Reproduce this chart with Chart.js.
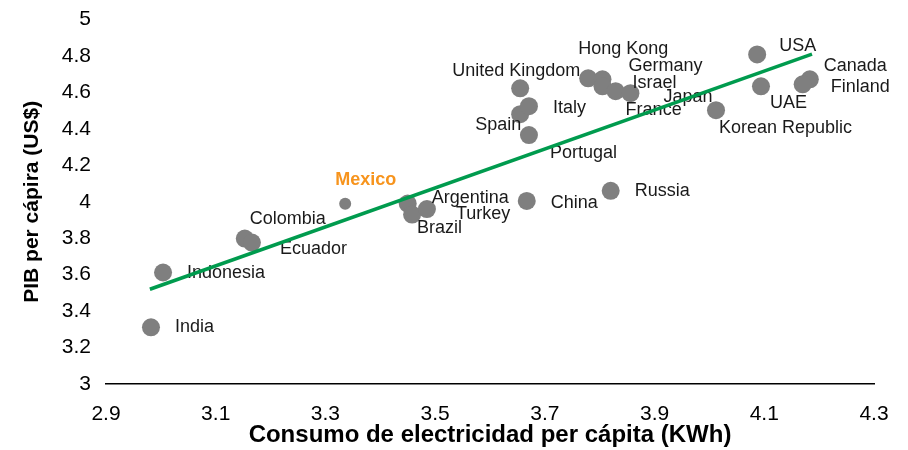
<!DOCTYPE html>
<html>
<head>
<meta charset="utf-8">
<script src="https://cdn.jsdelivr.net/npm/chart.js@4/dist/chart.umd.min.js"></script>
<style>
  body { margin: 0; background: #fff; }
  #chart { display: block; }
</style>
</head>
<body>
<canvas id="chart" width="908" height="450"></canvas>
<script>
// log10 values per country
const countries = ['India', 'Indonesia', 'Colombia', 'Ecuador', 'Mexico', 'Argentina', 'Brazil', 'Turkey',
  'China', 'Russia', 'Portugal', 'Spain', 'Italy', 'United Kingdom', 'Hong Kong', 'Germany', 'Israel',
  'France', 'Japan', 'Korean Republic', 'UAE', 'USA', 'Canada', 'Finland'];
const consumo = [2.982, 3.004, 3.153, 3.166, 3.336, 3.45, 3.458, 3.485,
  3.667, 3.82, 3.671, 3.655, 3.671, 3.655, 3.779, 3.805, 3.805,
  3.829, 3.856, 4.012, 4.094, 4.087, 4.183, 4.17];
const pib = [3.311, 3.612, 3.798, 3.776, 3.989, 3.99, 3.93, 3.96,
  4.005, 4.06, 4.366, 4.481, 4.525, 4.623, 4.678, 4.672, 4.634,
  4.607, 4.596, 4.503, 4.634, 4.809, 4.672, 4.645];

// trend line end points
const trendX = [2.98, 4.187];
const trendY = [3.52, 4.81];

const xTickValues = [2.9, 3.1, 3.3, 3.5, 3.7, 3.9, 4.1, 4.3];
const yTickValues = [3, 3.2, 3.4, 3.6, 3.8, 4, 4.2, 4.4, 4.6, 4.8, 5];

const highlight = 'Mexico';

// where each name sits relative to its dot (px)
const labelOffsets = {
  'India': [24, 0], 'Indonesia': [24, 1], 'Colombia': [5, -20], 'Ecuador': [28, 6],
  'Mexico': [-10, -24], 'Argentina': [24, -6], 'Brazil': [5, 13], 'Turkey': [29, 5],
  'China': [24, 2], 'Russia': [24, 0], 'Portugal': [21, 18], 'Spain': [-45, 11],
  'Italy': [24, 2], 'United Kingdom': [-68, -17], 'Hong Kong': [-10, -29], 'Germany': [26, -13],
  'Israel': [30, -3], 'France': [10, 19], 'Japan': [33, 4], 'Korean Republic': [3, 18],
  'UAE': [9, 17], 'USA': [22, -8], 'Canada': [14, -13], 'Finland': [28, 3]
};

const points = countries.map((c, i) => ({ x: consumo[i], y: pib[i] }));
const trend = trendX.map((x, i) => ({ x: x, y: trendY[i] }));

const pointLabels = {
  id: 'pointLabels',
  afterDatasetDraw(chart, args) {
    if (args.index !== 0) return;
    const ctx = chart.ctx;
    ctx.save();
    ctx.textBaseline = 'middle';
    ctx.textAlign = 'left';
    args.meta.data.forEach((el, i) => {
      const name = countries[i];
      const off = labelOffsets[name] || [12, 0];
      if (name === highlight) {
        ctx.font = 'bold 18px "Liberation Sans", Arial, sans-serif';
        ctx.fillStyle = '#F7941D';
      } else {
        ctx.font = '18px "Liberation Sans", Arial, sans-serif';
        ctx.fillStyle = '#1a1a1a';
      }
      ctx.fillText(name, el.x + off[0], el.y + off[1]);
    });
    ctx.restore();
  }
};

new Chart(document.getElementById('chart').getContext('2d'), {
  type: 'scatter',
  data: {
    datasets: [{
      label: 'Países',
      data: points,
      order: 1,
      backgroundColor: '#7f7f7f',
      borderWidth: 0,
      pointRadius: ctx => countries[ctx.dataIndex] === highlight ? 6 : 9,
      pointHoverRadius: ctx => countries[ctx.dataIndex] === highlight ? 6 : 9
    }, {
      type: 'line',
      label: 'Tendencia',
      data: trend,
      order: 0,
      borderColor: '#009B4E',
      borderWidth: 3.5,
      pointRadius: 0,
      fill: false
    }]
  },
  options: {
    responsive: false,
    devicePixelRatio: 1,
    animation: false,
    layout: { padding: { left: 0, right: 34, top: 11, bottom: 0 } },
    plugins: {
      legend: { display: false },
      tooltip: { enabled: false }
    },
    scales: {
      x: {
        type: 'linear',
        min: 2.9,
        max: 4.3,
        afterBuildTicks: s => { s.ticks = xTickValues.map(v => ({ value: v })); },
        afterFit: s => { s.height = 66; },
        grid: { display: false },
        border: { display: true, color: '#000', width: 1.5 },
        ticks: {
          color: '#000',
          padding: 10,
          font: { family: '"Liberation Sans", Arial', size: 21 },
          callback: v => String(+v.toFixed(1))
        },
        title: {
          display: true,
          text: 'Consumo de electricidad per cápita (KWh)',
          color: '#000',
          padding: { top: 0, bottom: 0 },
          font: { family: '"Liberation Sans", Arial', size: 24, weight: 'bold' }
        }
      },
      y: {
        min: 3,
        max: 5,
        afterBuildTicks: s => { s.ticks = yTickValues.map(v => ({ value: v })); },
        afterFit: s => { s.width = 106; },
        grid: { display: false },
        border: { display: false },
        ticks: {
          color: '#000',
          padding: 7,
          font: { family: '"Liberation Sans", Arial', size: 21 },
          callback: v => String(+v.toFixed(1))
        },
        title: {
          display: true,
          text: 'PIB per cápira (US$)',
          color: '#000',
          padding: { top: 20, bottom: 0 },
          font: { family: '"Liberation Sans", Arial', size: 21, weight: 'bold' }
        }
      }
    }
  },
  plugins: [pointLabels]
});
</script>
</body>
</html>
